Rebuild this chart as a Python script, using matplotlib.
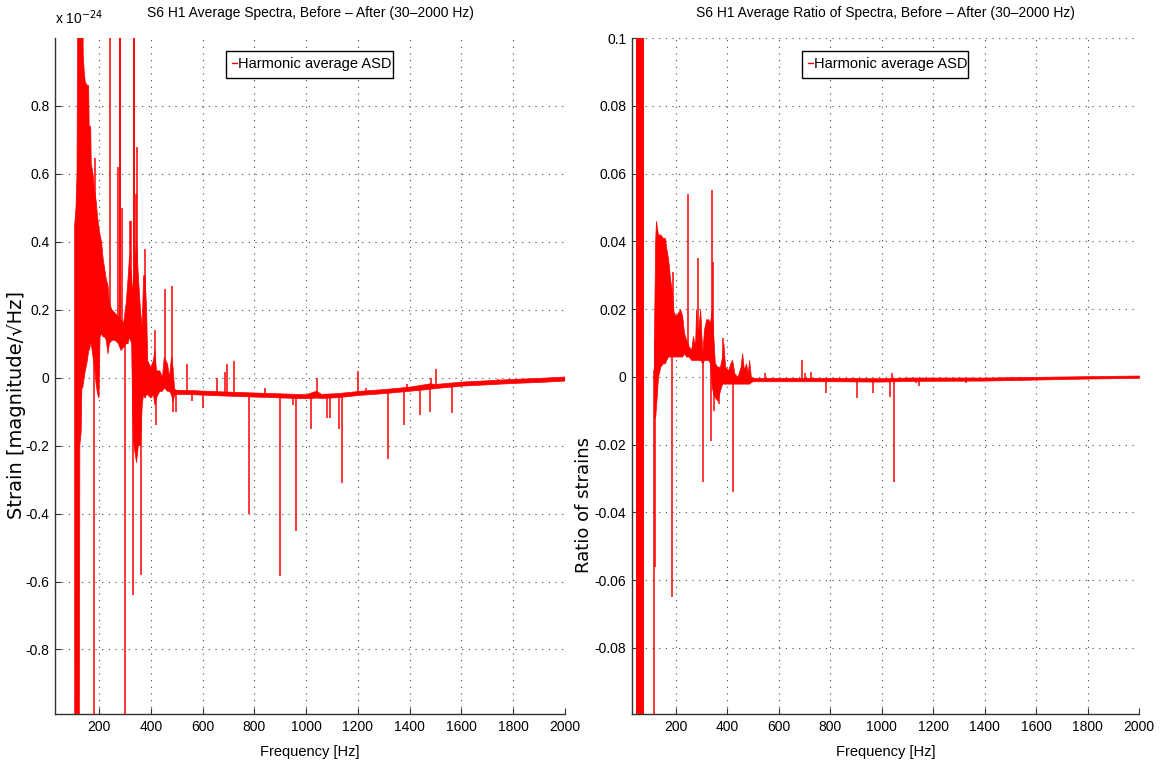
import numpy as np
import matplotlib
matplotlib.use("Agg")
import matplotlib.pyplot as plt
from matplotlib.lines import Line2D

plt.rcParams['font.family'] = ['Liberation Sans', 'DejaVu Sans']
plt.rcParams['axes.unicode_minus'] = False

# ---- left panel: strain difference, in units of 1e-24 ----
# band of the spectrum (lower / upper edge)
left_env_f = [106, 111, 115, 118, 124, 126, 131, 134, 137, 139, 143, 147, 155, 160, 162,
              168, 170, 177, 183, 189, 195, 200, 204, 210, 216, 222, 228, 235, 240, 250,
              262, 275, 285, 295, 305, 312, 318, 326, 330, 335, 345, 352, 360, 367, 372,
              378, 384, 388, 400, 410, 416, 422, 435, 445, 452, 465, 472, 480, 486, 492,
              500, 560, 650, 760, 880, 1000, 1040, 1060, 1120, 1210, 1300, 1400, 1480,
              1500, 1600, 1700, 1800, 1900, 2000]
left_env_lo = [-1.2, -1.2, -1.2, -1.2, -1.2, -0.20, -0.16, -0.03, -0.03, -0.02, 0.00, 0.02,
               0.05, 0.08, 0.08, 0.10, 0.10, 0.06, 0.03, -0.02, -0.05, -0.06, 0.12, 0.13,
               0.12, 0.12, 0.11, 0.07, 0.10, 0.11, 0.11, 0.10, 0.08, 0.09, 0.10, 0.10, 0.12,
               0.10, -0.10, -0.20, -0.25, -0.20, -0.20, -0.08, -0.05, -0.06, -0.05, -0.05,
               -0.06, -0.05, -0.08, -0.06, -0.04, -0.04, -0.03, -0.04, -0.04, -0.05, -0.07,
               -0.052, -0.049, -0.050, -0.053, -0.056, -0.059, -0.062, -0.060, -0.061,
               -0.059, -0.052, -0.047, -0.040, -0.034, -0.032, -0.025, -0.021, -0.017,
               -0.014, -0.010]
left_env_hi = [0.45, 0.50, 0.60, 1.2, 1.2, 1.2, 1.2, 1.2, 1.2, 0.95, 0.90, 0.87, 0.86, 0.86,
               0.74, 0.74, 0.63, 0.60, 0.55, 0.52, 0.47, 0.44, 0.42, 0.40, 0.35, 0.32, 0.29,
               0.27, 0.22, 0.20, 0.19, 0.18, 0.17, 0.16, 0.22, 0.29, 0.36, 0.30, 0.25, 0.30,
               0.40, 0.30, 0.20, 0.15, 0.30, 0.30, 0.20, 0.05, 0.03, 0.05, 0.08, 0.02, 0.02,
               0.00, 0.06, 0.04, 0.00, 0.06, 0.03, -0.034, -0.037, -0.038, -0.041, -0.044,
               -0.047, -0.050, -0.040, -0.049, -0.047, -0.040, -0.035, -0.028, -0.018,
               -0.020, -0.013, -0.009, -0.005, -0.002, 0.002]
# single lines sticking out of the band
left_spike_f = [181, 183, 243, 274, 280, 283, 289, 299, 320, 323, 332, 334, 337, 343, 347,
                363, 378, 417, 421, 455, 482, 486, 497, 541, 560, 603, 657, 688, 696, 723,
                781, 842, 900, 950, 962, 1020, 1043, 1082, 1094, 1128, 1140, 1202, 1233,
                1318, 1380, 1391, 1438, 1477, 1481, 1500, 1562, 1740]
left_spike_val = [-1.2, 0.647, 1.2, 0.62, 1.2, 1.2, 0.50, -1.2, 0.46, 0.46, -0.64, 1.2, 1.2,
                  0.54, 0.68, -0.58, 0.38, 0.14, -0.14, 0.26, 0.27, -0.10, -0.10, 0.04, -0.07,
                  -0.09, 0.0, 0.017, 0.04, 0.05, -0.40, -0.03, -0.585, -0.08, -0.45, -0.15,
                  0.0, -0.12, -0.12, -0.15, -0.31, 0.02, -0.03, -0.24, -0.14, -0.02, -0.11,
                  -0.10, 0.0, 0.025, -0.105, -0.005]

# ---- right panel: ratio of strains ----
right_block_f = [45, 72]
right_block_lo = [-0.12, -0.12]
right_block_hi = [0.12, 0.12]
right_env_f = [115, 120, 123, 127, 131, 140, 150, 158, 163, 170, 178, 185, 192, 200, 209,
               217, 225, 232, 240, 250, 260, 267, 275, 279, 285, 295, 303, 310, 318, 326,
               333, 340, 346, 352, 362, 372, 380, 385, 392, 404, 412, 419, 428, 440, 452,
               458, 465, 473, 480, 485, 492, 500, 800, 1000, 1100, 1400, 1600, 1800, 2000]
right_env_lo = [-0.012, -0.012, -0.009, -0.005, 0.000, 0.003, 0.004, 0.004, 0.005, 0.006,
                0.006, 0.006, 0.006, 0.006, 0.006, 0.006, 0.006, 0.007, 0.006, 0.006, 0.005,
                0.005, 0.005, 0.005, 0.005, 0.005, 0.004, 0.005, 0.005, 0.005, 0.004, -0.003,
                -0.005, -0.006, -0.007, -0.004, -0.002, -0.002, -0.002, -0.002, -0.002,
                -0.002, -0.002, -0.002, -0.002, -0.002, -0.002, -0.002, -0.002, -0.002,
                -0.0015, -0.0013, -0.0013, -0.0014, -0.0012, -0.0011, -0.0008, -0.0005,
                -0.0003]
right_env_hi = [0.010, 0.040, 0.046, 0.044, 0.042, 0.042, 0.041, 0.041, 0.038, 0.035, 0.029,
                0.025, 0.019, 0.018, 0.019, 0.020, 0.018, 0.013, 0.011, 0.009, 0.008, 0.012,
                0.009, 0.020, 0.012, 0.020, 0.007, 0.014, 0.017, 0.017, 0.016, 0.020, 0.012,
                0.004, 0.003, 0.003, 0.006, 0.010, 0.003, 0.002, 0.004, 0.005, 0.001, 0.000,
                0.003, 0.007, 0.002, 0.004, 0.001, 0.005, 0.000, -0.0003, -0.0003, -0.0004,
                -0.0002, -0.0002, 0.0, 0.0002, 0.0004]
right_spike_f = [116, 119, 187, 190, 248, 287, 306, 337, 341, 346, 347, 368, 384, 423, 547,
                 691, 703, 726, 785, 905, 968, 1034, 1042, 1049, 1135, 1147, 1326]
right_spike_val = [-0.12, -0.056, -0.065, 0.031, 0.054, 0.035, -0.031, -0.019, 0.055, 0.034,
                   -0.010, -0.008, 0.0115, -0.034, 0.001, 0.005, 0.001, 0.0015, -0.0047,
                   -0.0061, -0.0048, -0.006, 0.001, -0.031, -0.0018, -0.0027, -0.0018]

xticks = np.arange(200, 2001, 200)
legend_label = 'Harmonic average ASD'

fig = plt.figure(figsize=(11.63, 7.69), dpi=100)
ax1 = fig.add_axes([55 / 1163, 55 / 769, 510 / 1163, 676 / 769])
ax2 = fig.add_axes([632 / 1163, 55 / 769, 507 / 1163, 676 / 769])


def draw_panel(ax, env_f, env_lo, env_hi, spike_f, spike_val):
    ax.fill_between(env_f, env_lo, env_hi, color='red', lw=0.5, zorder=3)
    mid = (np.array(env_lo) + np.array(env_hi)) / 2
    base = np.interp(spike_f, env_f, mid)
    ax.vlines(spike_f, base, spike_val, color='red', lw=1.1, zorder=3)


draw_panel(ax1, left_env_f, left_env_lo, left_env_hi, left_spike_f, left_spike_val)
draw_panel(ax2, right_env_f, right_env_lo, right_env_hi, right_spike_f, right_spike_val)
ax2.fill_between(right_block_f, right_block_lo, right_block_hi, color='red', lw=0.7, zorder=3)

ax1.set_ylim(-0.99, 1.0)
ax1.set_yticks(np.round(np.arange(-0.8, 0.81, 0.2), 1))
ax1.set_yticklabels(['-0.8', '-0.6', '-0.4', '-0.2', '0', '0.2', '0.4', '0.6', '0.8'])
ax2.set_ylim(-0.0995, 0.1)
ax2.set_yticks(np.round(np.arange(-0.08, 0.101, 0.02), 2))
ax2.set_yticklabels(['-0.08', '-0.06', '-0.04', '-0.02', '0', '0.02', '0.04', '0.06',
                     '0.08', '0.1'])

titles = ['S6 H1 Average Spectra, Before \u2013 After (30\u20132000 Hz)',
          'S6 H1 Average Ratio of Spectra, Before \u2013 After (30\u20132000 Hz)']
for ax, title in zip([ax1, ax2], titles):
    ax.set_xlim(30, 2000)
    ax.set_xticks(xticks)
    ax.set_xticklabels([str(v) for v in xticks])
    ax.tick_params(direction='in', length=4, labelsize=10, pad=4, color='#333333')
    ax.grid(True, color='#444444', linestyle=(0, (1, 5)), lw=0.8)
    ax.set_axisbelow(True)
    for s in ['top', 'right']:
        ax.spines[s].set_visible(False)
    for s in ['left', 'bottom']:
        ax.spines[s].set_color('#333333')
        ax.spines[s].set_linewidth(1.0)
    ax.set_title(title, fontsize=10, pad=15)
    ax.set_xlabel('Frequency [Hz]', fontsize=10.5, labelpad=8)
    handle = Line2D([], [], color='red', lw=1)
    ax.legend([handle], [legend_label], loc='lower left',
              bbox_to_anchor=(0.335, 0.941, 0.328, 0.044), mode='expand',
              borderaxespad=0, handlelength=0.3, handletextpad=0.1,
              fancybox=False, edgecolor='black', framealpha=1, fontsize=10.5,
              borderpad=0.45)

fig.text(17 / 1163, 1 - 405 / 769, 'Strain [magnitude/\u221aHz]', rotation=90,
         ha='center', va='center', fontsize=14, family=['DejaVu Sans'])
fig.text(584 / 1163, 1 - 505 / 769, 'Ratio of strains', rotation=90,
         ha='center', va='center', fontsize=13, family=['DejaVu Sans'])
fig.text(55 / 1163, 1 - 24 / 769, r'x 10$^{-24}$', fontsize=10, ha='left', va='baseline')

fig.savefig('out.png', dpi=100)
